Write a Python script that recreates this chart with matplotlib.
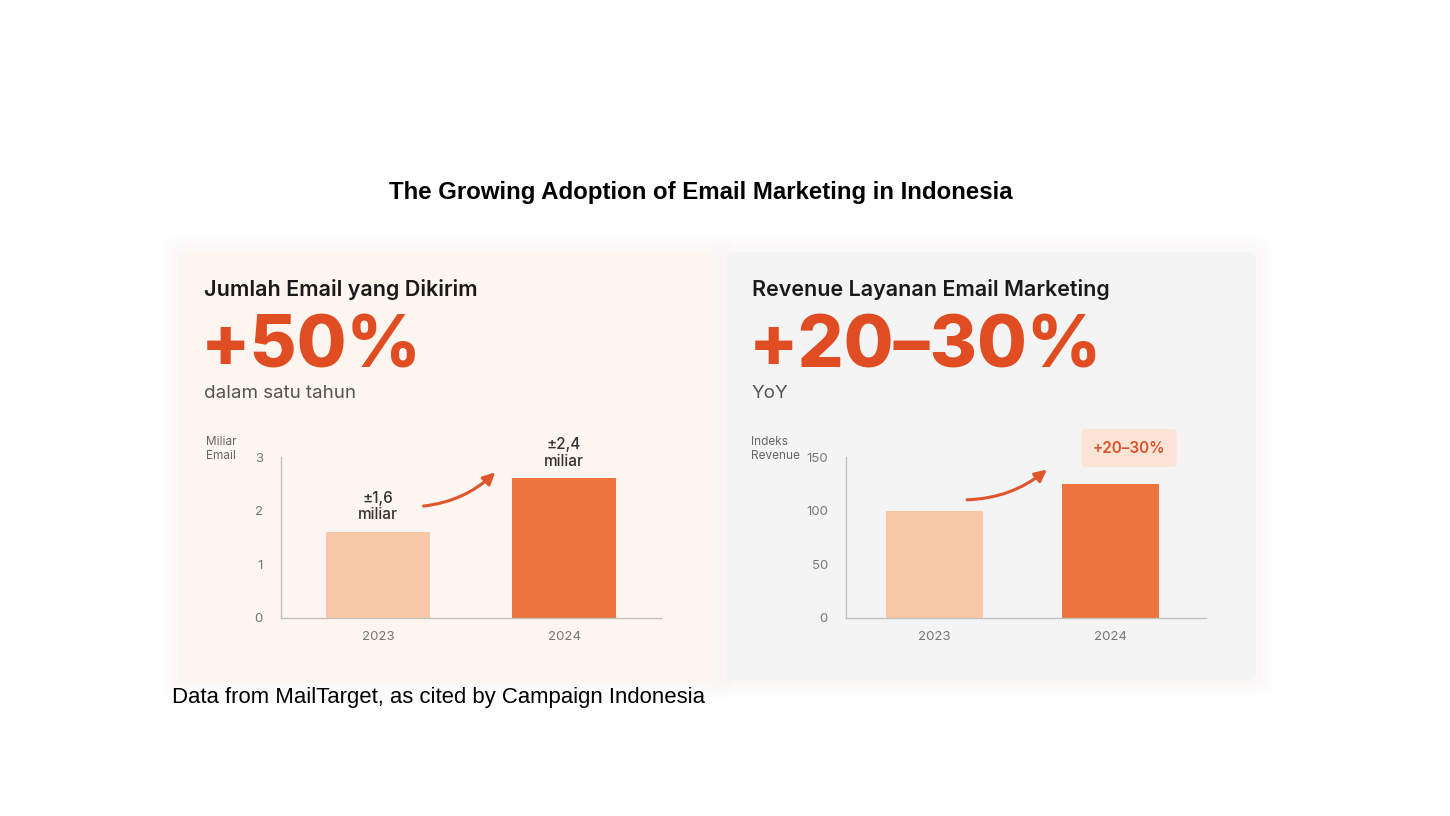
import matplotlib.pyplot as plt
from matplotlib.patches import FancyBboxPatch

# data
years = ["2023", "2024"]
email_vals = [1.6, 2.6]          # miliar email (bar heights as drawn)
email_labels = ["±1,6\nmiliar", "±2,4\nmiliar"]
email_ticks = [0, 1, 2, 3]
rev_vals = [100, 125]            # indeks revenue
rev_ticks = [0, 50, 100, 150]

W, H = 1450, 816
LIGHT = "#f9c8a9"
DARK = "#ee743d"
RED = "#e04d22"
UI = ["Inter", "DejaVu Sans"]
ARIAL = ["Liberation Sans", "DejaVu Sans"]


def fx(x):
    return x / W


def fy(y):
    return 1 - y / H


fig = plt.figure(figsize=(W / 100, H / 100), dpi=100)
fig.patch.set_facecolor("white")


def panel(x0, y0, x1, y1, color):
    # soft shadow
    for i, a in enumerate([0.008, 0.01, 0.012, 0.014]):
        p = 18 - i * 4
        fig.patches.append(FancyBboxPatch(
            (fx(x0 - p), fy(y1 + p)), fx(x1 - x0 + 2 * p), (y1 - y0 + 2 * p) / H,
            boxstyle="round,pad=0,rounding_size=0.012", transform=fig.transFigure,
            facecolor="#c9a58f", edgecolor="none", alpha=a, zorder=-3))
    fig.patches.append(FancyBboxPatch(
        (fx(x0), fy(y1)), fx(x1 - x0), (y1 - y0) / H,
        boxstyle="round,pad=0,rounding_size=0.008", transform=fig.transFigure,
        facecolor=color, edgecolor="none", zorder=-2))


panel(178, 252, 716, 682, "#fdf5ef")
panel(726, 252, 1256, 680, "#f4f4f4")

fig.text(fx(701), fy(192), "The Growing Adoption of Email Marketing in Indonesia",
         ha="center", va="center", fontsize=17.3, fontweight="bold", family=ARIAL)
fig.text(fx(172), fy(697), "Data from MailTarget, as cited by Campaign Indonesia",
         ha="left", va="center", fontsize=15.9, family=ARIAL)

# headings
fig.text(fx(204), fy(290), "Jumlah Email yang Dikirim", ha="left", va="center",
         fontsize=15.5, fontweight="semibold", family=UI, color="#1a1a1a")
fig.text(fx(201), fy(348), "+50%", ha="left", va="center",
         fontsize=52, fontweight="heavy", family=UI, color=RED)
fig.text(fx(204), fy(393), "dalam satu tahun", ha="left", va="center",
         fontsize=13.5, family=UI, color="#555555")

fig.text(fx(752), fy(290), "Revenue Layanan Email Marketing", ha="left", va="center",
         fontsize=15.5, fontweight="semibold", family=UI, color="#1a1a1a")
fig.text(fx(749), fy(348), "+20–30%", ha="left", va="center",
         fontsize=52, fontweight="heavy", family=UI, color=RED)
fig.text(fx(752), fy(393), "YoY", ha="left", va="center",
         fontsize=13.5, family=UI, color="#555555")

fig.text(fx(206), fy(449), "Miliar\nEmail", ha="left", va="center",
         fontsize=8.5, family=UI, color="#666666", linespacing=1.2)
fig.text(fx(751), fy(449), "Indeks\nRevenue", ha="left", va="center",
         fontsize=8.5, family=UI, color="#666666", linespacing=1.2)


def style_axes(ax):
    ax.patch.set_alpha(0)
    for s in ["top", "right"]:
        ax.spines[s].set_visible(False)
    for s in ["left", "bottom"]:
        ax.spines[s].set_color("#c4c0bc")
        ax.spines[s].set_linewidth(1.0)
    ax.tick_params(length=0, labelsize=9.5, colors="#777777", pad=9)
    ax.tick_params(axis="y", pad=13)
    for lab in ax.get_xticklabels() + ax.get_yticklabels():
        lab.set_family(UI)


# left chart
ax1 = fig.add_axes([fx(281), fy(618), fx(661 - 281), (618 - 457) / H])
ax1.bar(range(len(years)), email_vals, width=0.56, color=[LIGHT, DARK])
ax1.set_xlim(-0.52, 1.52)
ax1.set_ylim(0, 3)
ax1.set_yticks(email_ticks)
ax1.set_xticks(range(len(years)))
ax1.set_xticklabels(years)
style_axes(ax1)
for i, (v, t) in enumerate(zip(email_vals, email_labels)):
    ax1.annotate(t, (i, v), xytext=(0, 7), textcoords="offset points",
                 ha="center", va="bottom", fontsize=11, fontweight="medium",
                 family=UI, color="#333333", linespacing=1.15,
                 annotation_clip=False)
ax1.annotate("", xy=(0.64, email_vals[1] + 0.15), xytext=(0.23, email_vals[0] + 0.48),
             arrowprops=dict(arrowstyle="-|>,head_length=0.7,head_width=0.35",
                             connectionstyle="arc3,rad=0.18", color="#e0552b", lw=2.2),
             annotation_clip=False)

# right chart
ax2 = fig.add_axes([fx(846), fy(618), fx(1206 - 846), (618 - 457) / H])
ax2.bar(range(len(years)), rev_vals, width=0.55, color=[LIGHT, DARK])
ax2.set_xlim(-0.5, 1.54)
ax2.set_ylim(0, 150)
ax2.set_yticks(rev_ticks)
ax2.set_xticks(range(len(years)))
ax2.set_xticklabels(years)
style_axes(ax2)
ax2.annotate("", xy=(0.65, rev_vals[1] + 15), xytext=(0.17, rev_vals[0] + 10),
             arrowprops=dict(arrowstyle="-|>,head_length=0.7,head_width=0.35",
                             connectionstyle="arc3,rad=0.18", color="#e0552b", lw=2.2),
             annotation_clip=False)
fig.text(fx(1129), fy(448), "+20–30%", ha="center", va="center", fontsize=11,
         fontweight="semibold", family=UI, color="#d8532b",
         bbox=dict(boxstyle="round,pad=0.75,rounding_size=0.3",
                   facecolor="#fbe4d6", edgecolor="none"))

fig.savefig("out.png", dpi=100)
